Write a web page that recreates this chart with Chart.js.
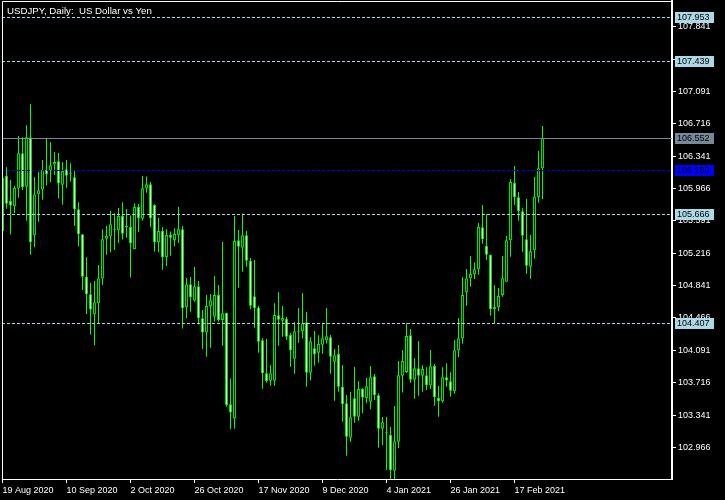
<!DOCTYPE html>
<html>
<head>
<meta charset="utf-8">
<script src="https://cdn.jsdelivr.net/npm/chart.js@4/dist/chart.umd.min.js"></script>
<style>
html, body { margin:0; padding:0; background:#000; }
canvas { display:block; }
</style>
</head>
<body>
<canvas id="chart" width="725" height="500"></canvas>
<script>
// daily USDJPY bars, 19 Aug 2020 .. 26 Feb 2021
var opens = [
  105.470,106.111,105.822,105.760,105.965,106.374,105.988,106.560,105.424,105.899,
  105.953,106.181,106.173,106.243,106.281,106.011,106.189,106.131,106.096,105.725,
  105.436,104.945,104.740,104.508,104.636,104.922,105.385,105.409,105.482,105.482,
  105.648,105.521,105.521,105.262,105.752,105.617,105.965,106.015,105.776,105.343,
  105.474,105.169,105.428,105.366,105.424,105.493,104.590,104.856,104.667,104.833,
  104.462,104.299,104.601,104.481,104.732,104.443,104.527,103.465,103.303,105.366,
  105.281,105.424,105.130,104.717,104.586,104.207,103.824,103.739,103.739,104.497,
  104.435,104.454,104.269,103.994,104.311,104.311,104.415,103.832,104.114,104.064,
  104.157,104.207,104.242,103.960,104.048,103.670,103.477,103.079,103.535,103.322,
  103.643,103.535,103.496,103.790,103.570,103.183,103.129,103.110,102.697,103.033,
  103.797,103.840,104.265,103.751,103.882,103.797,103.801,103.685,103.910,103.539,
  103.500,103.778,103.732,103.616,104.091,104.230,104.763,104.925,104.972,105.030,
  105.516,105.300,105.199,104.566,104.589,104.732,104.887,105.366,106.030,105.864,
  105.702,105.377,105.060,105.250,105.864,106.200
];
var highs = [
  106.096,106.212,106.065,105.996,106.575,106.560,106.699,106.946,106.096,106.158,
  106.297,106.548,106.506,106.390,106.378,106.274,106.297,106.258,106.181,105.806,
  105.436,105.169,104.875,104.895,105.080,105.493,105.532,105.706,105.679,105.741,
  105.806,105.729,105.652,105.795,105.787,106.111,106.104,106.042,105.783,105.625,
  105.521,105.494,105.467,105.505,105.752,105.532,104.930,104.941,105.057,104.895,
  104.558,104.732,104.744,104.952,104.848,105.346,104.527,103.766,105.648,105.485,
  105.678,105.474,105.161,105.138,104.605,104.230,104.222,103.921,104.636,104.767,
  104.605,104.477,104.292,104.415,104.581,104.755,104.535,104.242,104.315,104.265,
  104.404,104.581,104.269,104.106,104.153,103.921,103.574,103.608,103.898,103.736,
  103.651,103.770,103.909,103.817,103.593,103.319,103.319,103.203,103.446,103.967,
  104.095,104.404,104.338,103.998,104.199,103.921,103.894,104.095,103.933,103.678,
  103.894,103.940,103.836,104.211,104.466,104.941,105.033,105.184,105.111,105.566,
  105.775,105.667,105.199,104.848,104.813,105.184,105.416,106.076,106.227,105.926,
  105.736,105.844,105.427,106.099,106.401,106.690
];
var lows = [
  105.420,105.733,105.432,105.679,105.860,105.949,105.594,105.200,105.285,105.582,
  105.837,106.000,106.042,106.127,105.849,105.779,105.976,106.046,105.532,105.293,
  104.790,104.512,104.273,104.150,104.404,104.848,105.200,105.227,105.254,105.335,
  105.374,105.397,104.934,105.262,105.462,105.594,105.918,105.517,105.235,105.227,
  105.026,105.069,105.188,105.293,105.335,104.343,104.466,104.539,104.655,104.389,
  104.106,104.018,104.122,104.423,104.423,104.145,103.438,103.176,103.183,104.817,
  105.002,105.060,104.566,104.354,104.064,103.647,103.716,103.681,103.681,104.145,
  104.249,104.211,103.902,103.821,104.180,104.230,103.670,103.740,103.913,103.948,
  104.052,104.169,103.821,103.508,103.612,103.264,102.870,103.033,103.253,103.276,
  103.361,103.477,103.407,103.516,102.963,102.994,102.704,102.600,102.600,102.955,
  103.601,103.828,103.716,103.531,103.566,103.612,103.631,103.643,103.450,103.322,
  103.485,103.670,103.554,103.589,104.014,104.168,104.609,104.829,104.918,104.968,
  105.327,105.141,104.492,104.404,104.543,104.713,104.887,105.176,105.775,105.593,
  105.234,104.979,104.921,105.153,105.802,105.841
];
var closes = [
  106.090,105.791,105.768,105.973,106.374,105.980,106.560,105.343,105.899,105.945,
  106.181,106.131,106.235,106.274,106.023,106.169,106.115,106.139,105.725,105.436,
  104.945,104.740,104.563,104.648,104.926,105.378,105.416,105.551,105.482,105.648,
  105.443,105.521,105.331,105.752,105.621,105.969,106.015,105.621,105.343,105.474,
  105.169,105.428,105.397,105.439,105.493,104.578,104.856,104.706,104.833,104.462,
  104.299,104.605,104.670,104.732,104.443,104.520,103.457,103.372,105.358,105.292,
  105.424,105.130,104.608,104.578,104.191,103.824,103.736,103.824,104.500,104.446,
  104.466,104.249,104.091,104.311,104.307,104.404,103.832,104.195,104.045,104.164,
  104.230,104.253,104.018,104.033,103.670,103.465,103.091,103.315,103.322,103.643,
  103.543,103.674,103.778,103.570,103.183,103.257,103.129,102.704,103.037,103.801,
  103.967,104.257,103.751,103.882,103.797,103.875,103.685,103.906,103.546,103.500,
  103.778,103.740,103.624,104.091,104.230,104.732,104.925,104.975,105.030,105.520,
  105.377,105.199,104.566,104.593,104.720,104.925,105.366,106.041,105.864,105.702,
  105.420,105.072,105.238,105.875,106.200,106.552
];

var tickIndex = [0, 16, 32, 48, 64, 80, 96, 112, 128];
var tickText = ['19 Aug 2020', '10 Sep 2020', '2 Oct 2020', '26 Oct 2020', '17 Nov 2020',
                '9 Dec 2020', '4 Jan 2021', '26 Jan 2021', '17 Feb 2021'];
var priceTicks = [102.966, 103.341, 103.716, 104.091, 104.466, 104.841, 105.216,
                  105.591, 105.966, 106.341, 106.716, 107.091, 107.466, 107.841];

var levelPrices = [107.953, 107.439, 106.552, 106.180, 105.666, 104.407];
var levelColors = ['#add8e6', '#add8e6', '#778899', '#0000ff', '#add8e6', '#add8e6'];
var levelDashed = [true, true, false, true, true, true];

var titleText = 'USDJPY, Daily:  US Dollar vs Yen';
var FONT = "'Liberation Sans', Arial, sans-serif";

var wickData = [], bodyData = [], bodyFill = [];
for (var i = 0; i < opens.length; i++) {
    wickData.push({x: i, y: [lows[i], highs[i]]});
    bodyData.push({x: i, y: [opens[i], closes[i]]});
    bodyFill.push(closes[i] < opens[i] ? '#ffffff' : '#000000');
}

function $each(arr, fn){
    for (var j = 0; j < arr.length; j++) fn(j, arr[j]);
}

var mtPlugin = {
    id: 'mt',
    beforeDraw: function(chart){
        var ctx = chart.ctx;
        ctx.save();
        ctx.fillStyle = '#000';
        ctx.fillRect(0, 0, chart.width, chart.height);
        ctx.restore();
    },
    afterDatasetsDraw: function(chart){
        var ctx = chart.ctx, area = chart.chartArea, ys = chart.scales.y;
        ctx.save();
        ctx.lineWidth = 1;
        $each(levelPrices, function(j, p){
            var y = Math.round(ys.getPixelForValue(p)) + 0.5;
            ctx.strokeStyle = levelColors[j];
            ctx.setLineDash(levelDashed[j] ? [3, 2] : []);
            ctx.beginPath();
            ctx.moveTo(area.left, y);
            ctx.lineTo(area.right, y);
            ctx.stroke();
        });
        ctx.restore();
    },
    afterDraw: function(chart){
        var ctx = chart.ctx, area = chart.chartArea, ys = chart.scales.y;
        ctx.save();
        // frame top / left
        ctx.strokeStyle = '#fff';
        ctx.lineWidth = 1;
        ctx.beginPath();
        ctx.moveTo(area.left + 0.5, area.bottom);
        ctx.lineTo(area.left + 0.5, area.top + 0.5);
        ctx.lineTo(area.right, area.top + 0.5);
        ctx.stroke();

        // price boxes on the right scale
        ctx.font = '9px ' + FONT;
        ctx.textBaseline = 'middle';
        ctx.textAlign = 'left';
        $each(levelPrices, function(j, p){
            var y = Math.round(ys.getPixelForValue(p));
            ctx.fillStyle = levelColors[j];
            ctx.fillRect(area.right + 3, y - 5, 39, 11);
            ctx.fillStyle = '#000';
            ctx.fillText(p.toFixed(3), area.right + 5, y + 0.5);
        });

        // title
        ctx.font = '9.7px ' + FONT;
        ctx.fillStyle = '#fff';
        ctx.textBaseline = 'alphabetic';
        ctx.fillText(titleText, 7, 14);
        ctx.restore();
    }
};

Chart.defaults.font.family = FONT;
Chart.defaults.font.size = 9;
Chart.defaults.color = '#fff';

new Chart(document.getElementById('chart'), {
    type: 'bar',
    data: {
        datasets: [{
            data: bodyData,
            grouped: false,
            order: 1,
            maxBarThickness: 3,
            minBarLength: 1,
            backgroundColor: bodyFill,
            borderColor: '#00ff00',
            borderWidth: 1,
            borderSkipped: false,
            inflateAmount: 0
        }, {
            data: wickData,
            grouped: false,
            order: 2,
            maxBarThickness: 1,
            backgroundColor: '#00ff00',
            borderWidth: 0,
            inflateAmount: 0
        }]
    },
    options: {
        responsive: false,
        animation: false,
        devicePixelRatio: 1,
        layout: { padding: { left: 2, top: 1, right: 0, bottom: 0 } },
        plugins: { legend: { display: false }, tooltip: { enabled: false } },
        scales: {
            x: {
                type: 'linear',
                bounds: 'data',
                offset: false,
                min: -0.125,
                max: 167.375,
                afterBuildTicks: function(s){
                    s.ticks = tickIndex.map(function(v){ return {value: v}; });
                },
                afterFit: function(s){
                    s.height = 21;
                    s.paddingLeft = 0;
                    s.paddingRight = 0;
                },
                ticks: {
                    autoSkip: false,
                    maxRotation: 0,
                    align: 'start',
                    padding: 2,
                    color: '#fff',
                    callback: function(v){
                        var j = tickIndex.indexOf(v);
                        return j >= 0 ? tickText[j] : '';
                    }
                },
                grid: { drawOnChartArea: false, offset: false, tickLength: 4, color: '#fff' },
                border: { color: '#fff', width: 1 }
            },
            y: {
                position: 'right',
                bounds: 'data',
                min: 102.600,
                max: 108.139,
                afterBuildTicks: function(s){
                    s.ticks = priceTicks.map(function(v){ return {value: v}; });
                },
                afterFit: function(s){
                    s.width = 53;
                    s.paddingTop = 0;
                    s.paddingBottom = 0;
                },
                ticks: {
                    autoSkip: false,
                    padding: 2,
                    color: '#fff',
                    callback: function(v){ return Number(v).toFixed(3); }
                },
                grid: { drawOnChartArea: false, tickLength: 4, color: '#fff' },
                border: { color: '#fff', width: 2 }
            }
        }
    },
    plugins: [mtPlugin]
});
</script>
</body>
</html>
